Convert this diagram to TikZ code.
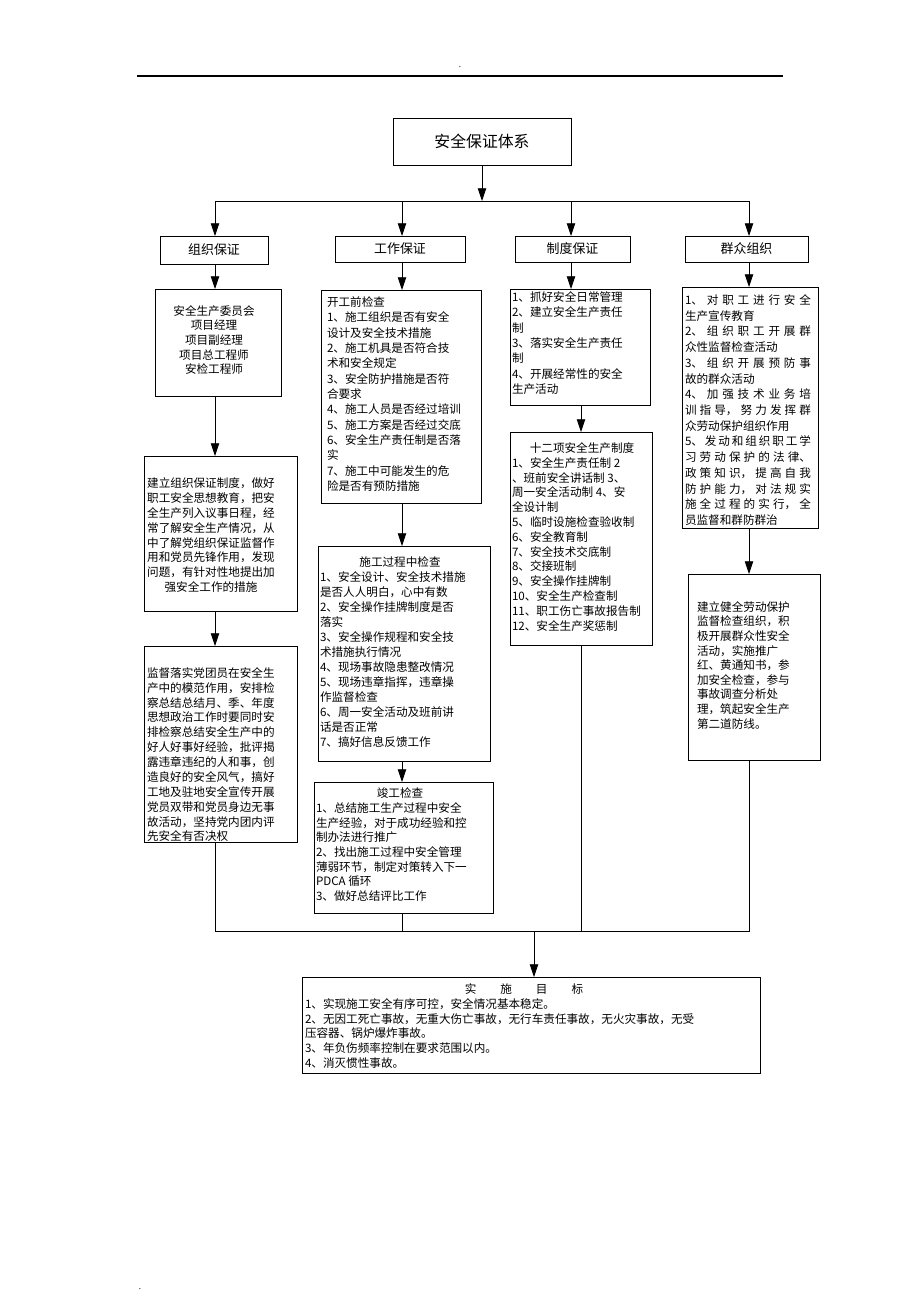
\documentclass[tikz,border=0pt]{standalone}
\usepackage{fontspec}
\setmainfont{Noto Sans CJK SC}
\usetikzlibrary{arrows.meta}
\begin{document}
\begin{tikzpicture}[x=0.75pt,y=-0.75pt,
  bx/.style={draw, line width=0.6pt, inner sep=0pt, outer sep=0pt},
  ln/.style={line width=0.6pt},
  arr/.style={line width=0.6pt, -{Triangle[length=9.5pt,width=6.3pt]}},
  tx/.style={inner sep=0pt, outer sep=0pt, anchor=north west, align=left},
  ttl/.style={inner sep=0pt, outer sep=0pt, anchor=north, font=\fontsize{8.7pt}{11pt}\selectfont},
  lv/.style={bx, font=\fontsize{9.7pt}{11pt}\selectfont}]
\useasboundingbox (0,0) rectangle (920,1304);
\fill[white] (0,0) rectangle (920,1304);
% header
\coordinate (hl) at (137,76);
\coordinate (hr) at (783,76);
\draw[line width=0.9pt] (hl) -- (hr);
\node[inner sep=0pt, font=\fontsize{6pt}{6pt}\selectfont] (dot1) at (460,67) {.};
\node[inner sep=0pt, font=\fontsize{6pt}{6pt}\selectfont] (dot2) at (140,1289) {.};
% column axes
\coordinate (c1) at (215,0);
\coordinate (c2) at (402,0);
\coordinate (c3a) at (571,0);
\coordinate (c3b) at (581,0);
\coordinate (c4) at (749,0);
\coordinate (cm) at (534,0);
% title
\node[bx, minimum width=133.5pt, minimum height=35.25pt, font=\fontsize{11.9pt}{13pt}\selectfont] (T) at (482,141.5) {安全保证体系};
% level 2
\node[lv, minimum width=81pt, minimum height=21pt] (L1) at (214,250) {组织保证};
\node[lv, minimum width=97.5pt, minimum height=19.5pt] (L2) at (400,249) {工作保证};
\node[lv, minimum width=86.25pt, minimum height=19.5pt] (L3) at (572.5,249) {制度保证};
\node[lv, minimum width=92.25pt, minimum height=19.5pt] (L4) at (746.5,249) {群众组织};
% boxes
\node[bx, minimum width=94.5pt, minimum height=80.25pt] (A) at (218,342.5) {};
\node[bx, minimum width=114.75pt, minimum height=116.25pt] (B) at (220.5,533.5) {};
\node[bx, minimum width=114.75pt, minimum height=147pt] (C) at (220.5,744) {};
\node[bx, minimum width=120pt, minimum height=159.75pt] (D) at (401,396.5) {};
\node[bx, minimum width=129pt, minimum height=161.25pt] (E) at (404,653.5) {};
\node[bx, minimum width=134.25pt, minimum height=98.25pt] (F) at (403.5,847.5) {};
\node[bx, minimum width=105pt, minimum height=87pt] (G) at (580,347) {};
\node[bx, minimum width=106.5pt, minimum height=159.75pt] (H) at (581,538.5) {};
\node[bx, minimum width=102pt, minimum height=180.75pt] (I) at (750,407.5) {};
\node[bx, minimum width=99pt, minimum height=139.5pt] (J) at (754,667) {};
\node[bx, minimum width=343.5pt, minimum height=72pt] (K) at (531,1025) {};
% texts
\node[tx, anchor=north, align=center, font=\fontsize{8.7pt}{10.95pt}\selectfont] (tA) at (214,305.5) {安全生产委员会\\项目经理\\项目副经理\\项目总工程师\\安检工程师};
\node[tx, anchor=north, align=center, font=\fontsize{8.7pt}{11.2pt}\selectfont] (tB) at (211,477.5) {建立组织保证制度，做好\\职工安全思想教育，把安\\全生产列入议事日程，经\\常了解安全生产情况，从\\中了解党组织保证监督作\\用和党员先锋作用，发现\\问题，有针对性地提出加\\强安全工作的措施};
\node[tx, font=\fontsize{8.7pt}{11.15pt}\selectfont] (tC) at (147,667.5) {监督落实党团员在安全生\\产中的模范作用，安排检\\察总结总结月、季、年度\\思想政治工作时要同时安\\排检察总结安全生产中的\\好人好事好经验，批评揭\\露违章违纪的人和事，创\\造良好的安全风气，搞好\\工地及驻地安全宣传开展\\党员双带和党员身边无事\\故活动，坚持党内团内评\\先安全有否决权};
\node[tx, font=\fontsize{8.7pt}{11.5pt}\selectfont] (tD) at (327,296.5) {开工前检查\\1、施工组织是否有安全\\设计及安全技术措施\\2、施工机具是否符合技\\术和安全规定\\3、安全防护措施是否符\\合要求\\4、施工人员是否经过培训\\5、施工方案是否经过交底\\6、安全生产责任制是否落\\实\\7、施工中可能发生的危\\险是否有预防措施};
\node[ttl] (hE) at (400,556.5) {施工过程中检查};
\node[tx, font=\fontsize{8.7pt}{11.25pt}\selectfont] (tE) at (320,571.5) {1、安全设计、安全技术措施\\是否人人明白，心中有数\\2、安全操作挂牌制度是否\\落实\\3、安全操作规程和安全技\\术措施执行情况\\4、现场事故隐患整改情况\\5、现场违章指挥，违章操\\作监督检查\\6、周一安全活动及班前讲\\话是否正常\\7、搞好信息反馈工作};
\node[ttl] (hF) at (400,787.5) {竣工检查};
\node[tx, font=\fontsize{8.7pt}{11pt}\selectfont] (tF) at (316,802.5) {1、总结施工生产过程中安全\\生产经验，对于成功经验和控\\制办法进行推广\\2、找出施工过程中安全管理\\薄弱环节，制定对策转入下一\\PDCA 循环\\3、做好总结评比工作};
\node[tx, font=\fontsize{8.7pt}{11.5pt}\selectfont] (tG) at (512,291.5) {1、抓好安全日常管理\\2、建立安全生产责任\\制\\3、落实安全生产责任\\制\\4、开展经常性的安全\\生产活动};
\node[ttl] (hH) at (582,442.5) {十二项安全生产制度};
\node[tx, font=\fontsize{8.7pt}{11.1pt}\selectfont] (tH) at (512,457.5) {1、安全生产责任制 2\\、班前安全讲话制 3、\\周一安全活动制 4、安\\全设计制\\5、临时设施检查验收制\\6、安全教育制\\7、安全技术交底制\\8、交接班制\\9、安全操作挂牌制\\10、安全生产检查制\\11、职工伤亡事故报告制\\12、安全生产奖惩制};
\node[tx, text width=94.5pt, align=justify, font={\XeTeXlinebreaklocale "zh"\XeTeXlinebreakskip=0pt plus 6pt\fontsize{8.7pt}{11.8pt}\selectfont}] (tI) at (685,294.5) {1、对职工进行安全\linebreak 生产宣传教育\par 2、组织职工开展群\linebreak 众性监督检查活动\par 3、组织开展预防事\linebreak 故的群众活动\par 4、加强技术业务培\linebreak 训指导，努力发挥群\linebreak 众劳动保护组织作用\par 5、发动和组织职工学\linebreak 习劳动保护的法律、\linebreak 政策知识，提高自我\linebreak 防护能力，对法规实\linebreak 施全过程的实行，全\linebreak 员监督和群防群治};
\node[tx, font=\fontsize{8.7pt}{10.95pt}\selectfont] (tJ) at (697,601.5) {建立健全劳动保护\\监督检查组织，积\\极开展群众性安全\\活动，实施推广\\红、黄通知书，参\\加安全检查，参与\\事故调查分析处\\理，筑起安全生产\\第二道防线。};
\node[ttl] (hK) at (524,983.5) {实\hspace{18pt}施\hspace{18pt}目\hspace{18pt}标};
\node[tx, font=\fontsize{8.7pt}{11.1pt}\selectfont] (tK) at (305,998.5) {1、实现施工安全有序可控，安全情况基本稳定。\\2、无因工死亡事故，无重大伤亡事故，无行车责任事故，无火灾事故，无受\\压容器、锅炉爆炸事故。\\3、年负伤频率控制在要求范围以内。\\4、消灭惯性事故。};
% connectors top
\coordinate (bT) at (482,201);
\coordinate (b1) at (215,201);
\coordinate (b2) at (402,201);
\coordinate (b3) at (571,201);
\coordinate (b4) at (749,201);
\draw[arr] (T.south) -- (bT);
\draw[ln] (b1) -- (b4);
\draw[arr] (b1) -- (L1.north -| b1);
\draw[arr] (b2) -- (L2.north -| b2);
\draw[arr] (b3) -- (L3.north -| b3);
\draw[arr] (b4) -- (L4.north -| b4);
% column 1
\draw[arr] (L1.south -| c1) -- (A.north -| c1);
\draw[arr] (A.south -| c1) -- (B.north -| c1);
\draw[arr] (B.south -| c1) -- (C.north -| c1);
% column 2
\draw[arr] (L2.south -| c2) -- (D.north -| c2);
\draw[arr] (D.south -| c2) -- (E.north -| c2);
\draw[arr] (E.south -| c2) -- (F.north -| c2);
% column 3
\draw[arr] (L3.south -| c3a) -- (G.north -| c3a);
\draw[arr] (G.south -| c3b) -- (H.north -| c3b);
% column 4
\draw[arr] (L4.south -| c4) -- (I.north -| c4);
\draw[arr] (I.south -| c4) -- (J.north -| c4);
% bottom collector
\coordinate (e1) at (215,931);
\coordinate (e4) at (749,931);
\coordinate (em) at (534,931);
\draw[ln] (C.south -| c1) -- (e1) -- (e4) -- (J.south -| c4);
\draw[ln] (F.south -| c2) -- (c2 |- e1);
\draw[ln] (H.south -| c3b) -- (c3b |- e1);
\draw[arr] (em) -- (K.north -| cm);
\end{tikzpicture}
\end{document}
